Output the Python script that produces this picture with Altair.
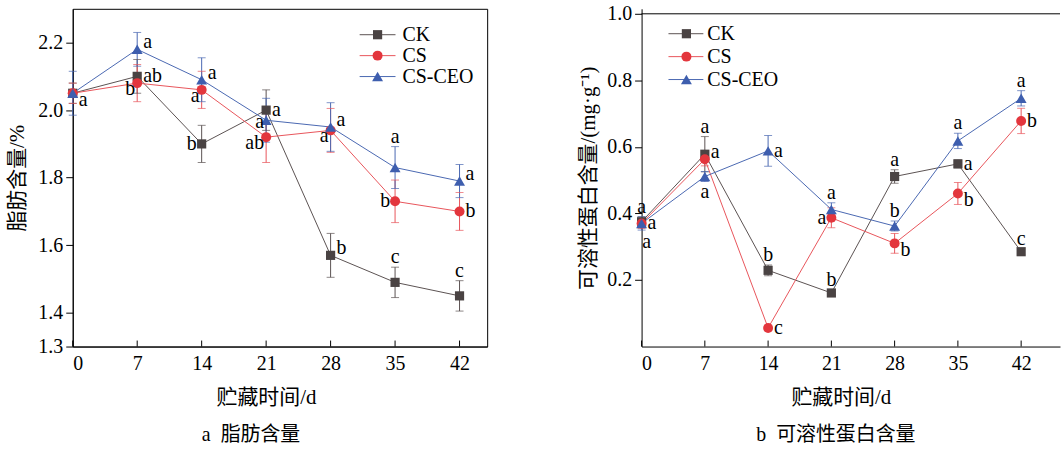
import altair as alt
import pandas as pd

DAYS = [0, 7, 14, 21, 28, 35, 42]
SERIES = ["CK", "CS", "CS-CEO"]

# (a) fat content, %
fat_ck = [2.05, 2.10, 1.90, 2.00, 1.57, 1.49, 1.45]
fat_cs = [2.05, 2.08, 2.06, 1.92, 1.94, 1.73, 1.70]
fat_ceo = [2.05, 2.18, 2.09, 1.97, 1.95, 1.83, 1.79]
fat_ck_err = [0.03, 0.05, 0.055, 0.06, 0.065, 0.045, 0.045]
fat_cs_err = [0.03, 0.055, 0.055, 0.075, 0.065, 0.063, 0.056]
fat_ceo_err = [0.065, 0.05, 0.065, 0.065, 0.072, 0.062, 0.049]
fat_ck_let = ["a", "ab", "b", "a", "b", "c", "c"]
fat_cs_let = ["", "b", "a", "ab", "a", "b", "b"]
fat_ceo_let = ["", "a", "a", "a", "a", "a", "a"]

# (b) soluble protein, mg/g
pro_ck = [0.375, 0.578, 0.229, 0.161, 0.511, 0.549, 0.285]
pro_cs = [0.370, 0.563, 0.056, 0.387, 0.310, 0.460, 0.678]
pro_ceo = [0.370, 0.511, 0.588, 0.412, 0.362, 0.618, 0.746]
pro_ck_err = [0.015, 0.053, 0.016, 0.010, 0.020, 0.012, 0.008]
pro_cs_err = [0.015, 0.020, 0.008, 0.030, 0.030, 0.033, 0.038]
pro_ceo_err = [0.020, 0.015, 0.046, 0.020, 0.015, 0.023, 0.023]
pro_ck_let = ["a", "a", "b", "b", "a", "a", "c"]
pro_cs_let = ["a", "a", "c", "a", "b", "b", "b"]
pro_ceo_let = ["a", "a", "a", "a", "b", "a", "a"]

# label placement codes (style only)
fat_ck_pl = ["rb", "r", "l", "r", "ra", "a", "a"]
fat_cs_pl = ["", "lb", "lb", "lb", "lb", "l", "r"]
fat_ceo_pl = ["", "ra", "ra", "la", "ra", "a", "ra"]
pro_ck_pl = ["a", "a", "a", "a", "a", "r", "a"]
pro_cs_pl = ["r", "ra", "r", "l", "rb", "rb", "r"]
pro_ceo_pl = ["br", "b", "r", "a", "a", "a", "a"]

PLACE = {
    "r": ("left", "middle", 6, 0, "value"),
    "ra": ("left", "middle", 6, -7, "value"),
    "rb": ("left", "middle", 6, 7, "value"),
    "l": ("right", "middle", -5, 0, "value"),
    "lb": ("right", "middle", -2, 6, "value"),
    "la": ("right", "middle", -2, 2, "value"),
    "a": ("center", "alphabetic", 0, -4, "hi"),
    "b": ("center", "top", 0, 1, "lo"),
    "br": ("center", "top", 5, 9, "value"),
}

LINE_COLORS = ["#5b5252", "#e8555b", "#4a68b2"]
MARK_COLORS = ["#4a4343", "#e3363d", "#3e5eae"]
SHAPES = ["square", "circle", "triangle-up"]
SIZES = [85, 100, 120]

SERIF = "Liberation Serif"
CJK = "Liberation Serif, Noto Sans CJK SC"
FS = 20


def panel(vals, errs, lets, pls, ydom, yvals, xmax, W, H, ytitle, ytpad,
          caption, cap_dx, xt_x, leg, frame):
    rows = []
    for s, v, e, L, P in zip(SERIES, vals, errs, lets, pls):
        for d, vv, ee, ll, pp in zip(DAYS, v, e, L, P):
            rows.append(dict(day=d, series=s, value=vv, lo=vv - ee, hi=vv + ee,
                             letter=ll, place=pp))
    df = pd.DataFrame(rows)
    xaxis = alt.Axis(values=DAYS, ticks=False, grid=False, domain=True,
                     domainColor="black", labelFont=SERIF, labelFontSize=FS,
                     labelColor="black", labelPadding=7, title="贮藏时间/d",
                     titleFont=CJK, titleFontSize=21, titleFontWeight="normal",
                     titleColor="black", titleX=xt_x, titleY=40,
                     titleAnchor="start", titleAlign="center")
    yaxis = alt.Axis(values=yvals, format=".1f", grid=False, domain=True,
                     domainColor="black", tickColor="black", tickSize=7,
                     labelFont=SERIF, labelFontSize=FS, labelColor="black",
                     labelPadding=3, title=ytitle, titleFont=CJK,
                     titleFontSize=21, titleFontWeight="normal",
                     titleColor="black", titlePadding=ytpad)
    xs = alt.Scale(domain=[0, xmax], nice=False, zero=False)
    ys = alt.Scale(domain=ydom, nice=False, zero=False)

    def X():
        return alt.X("day:Q", scale=xs, axis=xaxis)

    def Y(f):
        return alt.Y(f, scale=ys, axis=yaxis)

    col = alt.Color("series:N", scale=alt.Scale(domain=SERIES, range=LINE_COLORS),
                    legend=None)
    base = alt.Chart(df)
    layers = []
    layers.append(base.mark_rule(strokeWidth=1).encode(x=X(), y=Y("lo:Q"), y2="hi:Q", color=col))
    layers.append(base.mark_tick(orient="horizontal", size=8, thickness=1).encode(
        x=X(), y=Y("lo:Q"), color=col))
    layers.append(base.mark_tick(orient="horizontal", size=8, thickness=1).encode(
        x=X(), y=Y("hi:Q"), color=col))
    for i, s in enumerate(SERIES):
        layers.append(base.transform_filter(alt.datum.series == s).mark_line(
            strokeWidth=1, color=LINE_COLORS[i]).encode(x=X(), y=Y("value:Q"), order="day:Q"))
    for i, s in enumerate(SERIES):
        layers.append(base.transform_filter(alt.datum.series == s).mark_point(
            filled=True, opacity=1, shape=SHAPES[i], size=SIZES[i],
            color=MARK_COLORS[i]).encode(x=X(), y=Y("value:Q")))
    for code, (al, bl, dx, dy, fld) in PLACE.items():
        layers.append(base.transform_filter(alt.datum.place == code).mark_text(
            align=al, baseline=bl, dx=dx, dy=dy, font=SERIF, fontSize=FS,
            color="black").encode(x=X(), y=Y(fld + ":Q"), text="letter:N"))
    # inward x ticks
    tdf = pd.DataFrame({"day": DAYS})
    layers.append(alt.Chart(tdf).mark_rule(color="black", strokeWidth=1).encode(
        x=X(), y=alt.value(H), y2=alt.value(H - 6)))
    if frame is not None:
        # top frame line at the top value of the axis
        fdf = pd.DataFrame({"top": [frame]})
        layers.append(alt.Chart(fdf).mark_rule(color="black", strokeWidth=1).encode(
            x=alt.value(0), x2=alt.value(W), y=Y("top:Q")))
    # legend
    lx0, lx1, lpx, ltx, ly0, lstep = leg
    for i, s in enumerate(SERIES):
        ldf = pd.DataFrame({"series": [s]})
        ly = ly0 + i * lstep
        lc = alt.Chart(ldf)
        layers.append(lc.mark_rule(color=LINE_COLORS[i], strokeWidth=1).encode(
            x=alt.value(lx0), x2=alt.value(lx1), y=alt.value(ly)))
        layers.append(lc.mark_point(filled=True, opacity=1, shape=SHAPES[i],
                                    size=SIZES[i], color=MARK_COLORS[i]).encode(
            x=alt.value(lpx), y=alt.value(ly)))
        layers.append(lc.mark_text(align="left", baseline="middle", font=SERIF,
                                   fontSize=20, color="black").encode(
            x=alt.value(ltx), y=alt.value(ly), text="series:N"))
    view = alt.ViewBackground(stroke="black", strokeWidth=1) if frame is None \
        else alt.ViewBackground(strokeWidth=0, strokeOpacity=0)
    return alt.layer(*layers).properties(
        width=W, height=H, view=view,
        title=alt.TitleParams(caption, orient="bottom", anchor="middle",
                              frame="group", dx=cap_dx, offset=18, font=CJK,
                              fontSize=20, fontWeight="normal", color="black"))


left = panel([fat_ck, fat_cs, fat_ceo], [fat_ck_err, fat_cs_err, fat_ceo_err],
             [fat_ck_let, fat_cs_let, fat_ceo_let], [fat_ck_pl, fat_cs_pl, fat_ceo_pl],
             [1.3, 2.3], [1.3, 1.4, 1.6, 1.8, 2.0, 2.2], 45, 416, 339,
             "脂肪含量/%", 10, "a\u2002脂肪含量", -29, 194,
             (288, 324, 306, 331, 26, 21), None)
right = panel([pro_ck, pro_cs, pro_ceo], [pro_ck_err, pro_cs_err, pro_ceo_err],
              [pro_ck_let, pro_cs_let, pro_ceo_let], [pro_ck_pl, pro_cs_pl, pro_ceo_pl],
              [0.0, 1.015], [0.2, 0.4, 0.6, 0.8, 1.0], 46.3, 420, 339,
              "可溶性蛋白含量/(mg·g⁻¹)", 8, "b\u2002可溶性蛋白含量", -15, 200,
              (27, 62, 45, 66, 25, 23), 1.0)

chart = alt.hconcat(left, right, spacing=90).properties(
    padding={"left": 6, "top": 3, "right": 0, "bottom": 0},
    background="white",
)

chart.save("out.html", embed_options={"renderer": "svg", "actions": False})
